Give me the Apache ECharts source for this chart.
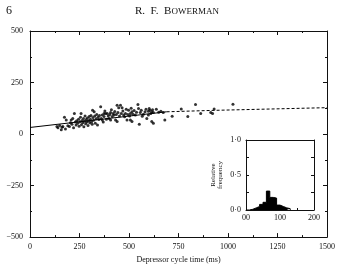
<!DOCTYPE html>
<html>
<head>
<meta charset="utf-8">
<script src="https://cdn.jsdelivr.net/npm/echarts@6/dist/echarts.min.js"></script>
<style>
  html, body { margin: 0; padding: 0; background: #fff; }
  #chart { width: 338px; height: 269px; }
</style>
</head>
<body>
<div id="chart"></div>
<script>
// scatter: depressor cycle time (ms) vs value
const cyclePoints = [
  [136, 37], [141, 30], [150, 42], [158, 21], [162, 33], [166, 37], [174, 81], [179, 25],
  [183, 68], [191, 40], [199, 37], [204, 55], [208, 68], [212, 48], [216, 76], [220, 30],
  [224, 100], [229, 58], [233, 44], [236, 65], [241, 53], [245, 72], [248, 38], [252, 60],
  [255, 82], [258, 100], [260, 45], [263, 66], [266, 55], [270, 75], [272, 35], [275, 62],
  [278, 88], [281, 50], [284, 70], [287, 58], [290, 78], [293, 42], [296, 64], [299, 85],
  [302, 55], [305, 72], [308, 90], [311, 60], [314, 48], [316, 116], [318, 80], [321, 67],
  [324, 108], [327, 88], [330, 52], [334, 74], [337, 95], [341, 44], [344, 82], [348, 70],
  [351, 90], [357, 132], [360, 76], [365, 92], [365, 68], [370, 58], [374, 85], [374, 100],
  [378, 112], [382, 100], [386, 72], [390, 100], [395, 88], [399, 76], [403, 95], [407, 105],
  [407, 68], [411, 118], [415, 85], [420, 100], [424, 92], [428, 110], [432, 68], [436, 95],
  [440, 140], [440, 61], [444, 104], [448, 128], [452, 88], [457, 140], [461, 100], [465, 128],
  [469, 112], [473, 92], [478, 84], [482, 100], [486, 120], [490, 68], [494, 95], [498, 116],
  [503, 88], [507, 100], [507, 68], [511, 125], [515, 108], [515, 61], [520, 96], [526, 114],
  [532, 92], [538, 106], [545, 143], [548, 124], [552, 48], [557, 105], [562, 116], [567, 86],
  [573, 96], [581, 108], [586, 120], [590, 76], [598, 111], [598, 92], [602, 124], [606, 116],
  [610, 100], [615, 108], [615, 61], [619, 118], [623, 105], [623, 53], [638, 120], [650, 106],
  [661, 111], [673, 105], [681, 68], [718, 86], [764, 121], [797, 85], [836, 143], [862, 100],
  [913, 104], [922, 100], [930, 121], [1025, 145]
];
// fitted line, solid part and dashed extrapolation
const fitSolid = [[0, 32], [690, 108]];
const fitDashed = [[690, 108], [930, 115], [1500, 128]];

// inset histogram: bin start (ms) and relative frequency
const binStarts = [0, 10, 20, 30, 40, 50, 60, 70, 80, 90, 100, 110, 120, 130];
const binFreq = [0, 0.01, 0.03, 0.05, 0.08, 0.11, 0.27, 0.18, 0.17, 0.07, 0.05, 0.03, 0.02, 0];

const mainTicks = [-500, -250, 0, 250, 500];
const insetYLabels = { 0: '0·0', 0.5: '0·5', 1: '1·0' };
const insetXLabels = { 0: '00', 100: '100', 200: '200' };

const serif = 'Liberation Serif';
const ink = '#111';

const chart = echarts.init(document.getElementById('chart'));

const lineAxis = { onZero: false, lineStyle: { color: ink, width: 1 } };
const labelStyle = { fontFamily: serif, fontSize: 8, color: ink };
const tick = len => ({ inside: true, length: len, lineStyle: { color: ink } });
const minor = len => ({ show: true, splitNumber: 2, length: len, lineStyle: { color: ink } });

const option = {
  animation: false,
  title: [
    { text: '6', left: 1, top: 0, textStyle: { fontFamily: serif, fontSize: 12, fontWeight: 'normal', color: ink } },
    {
      text: '{a|R.  F.  B}{b|OWERMAN}', left: 130, top: 1,
      textStyle: {
        rich: {
          a: { fontFamily: serif, fontSize: 11, fontWeight: 'normal', color: ink },
          b: { fontFamily: serif, fontSize: 9, fontWeight: 'normal', color: ink }
        }
      }
    }
  ],
  grid: [
    { left: 30, top: 31, right: 6, bottom: 29 },
    { left: 246, top: 140, width: 68, height: 70 }
  ],
  xAxis: [
    {
      type: 'value', gridIndex: 0, min: 0, max: 1500, interval: 250,
      name: 'Depressor cycle time (ms)', nameLocation: 'middle', nameGap: 18,
      nameTextStyle: { fontFamily: serif, fontSize: 8, color: ink },
      axisLine: lineAxis, splitLine: { show: false },
      axisTick: tick(4), minorTick: minor(2),
      axisLabel: Object.assign({ margin: 6, formatter: v => String(v) }, labelStyle)
    },
    {
      type: 'value', gridIndex: 0, position: 'top', min: 0, max: 1500, interval: 250,
      axisLine: lineAxis, splitLine: { show: false }, axisLabel: { show: false },
      axisTick: tick(4), minorTick: minor(2)
    },
    {
      type: 'value', gridIndex: 1, min: 0, max: 200, interval: 100,
      axisLine: lineAxis, splitLine: { show: false },
      axisTick: tick(3), minorTick: minor(2),
      axisLabel: Object.assign({ margin: 4, formatter: v => insetXLabels[v] || '' }, labelStyle)
    },
    {
      type: 'value', gridIndex: 1, position: 'top', min: 0, max: 200, interval: 100,
      axisLine: lineAxis, splitLine: { show: false }, axisLabel: { show: false }, axisTick: { show: false }
    }
  ],
  yAxis: [
    {
      type: 'value', gridIndex: 0, min: mainTicks[0], max: mainTicks[mainTicks.length - 1], interval: 250,
      axisLine: lineAxis, splitLine: { show: false },
      axisTick: tick(4), minorTick: minor(2),
      axisLabel: Object.assign({ margin: 7, formatter: v => String(v).replace('-', '\u2212') }, labelStyle)
    },
    {
      type: 'value', gridIndex: 0, position: 'right', min: -500, max: 500, interval: 250,
      axisLine: lineAxis, splitLine: { show: false }, axisLabel: { show: false },
      axisTick: tick(4), minorTick: minor(2)
    },
    {
      type: 'value', gridIndex: 1, min: 0, max: 1, interval: 0.5,
      name: 'Relative\nfrequency', nameLocation: 'middle', nameRotate: 90, nameGap: 22,
      nameTextStyle: { fontFamily: serif, fontSize: 7, color: ink, lineHeight: 7 },
      axisLine: lineAxis, splitLine: { show: false },
      axisTick: tick(3), minorTick: minor(3),
      axisLabel: Object.assign({ margin: 5, formatter: v => insetYLabels[v] || '' }, labelStyle)
    },
    {
      type: 'value', gridIndex: 1, position: 'right', min: 0, max: 1, interval: 0.5,
      axisLine: lineAxis, splitLine: { show: false }, axisLabel: { show: false },
      axisTick: tick(3), minorTick: minor(3)
    }
  ],
  series: [
    {
      type: 'scatter', xAxisIndex: 0, yAxisIndex: 0, data: cyclePoints,
      symbol: 'circle', symbolSize: 3, itemStyle: { color: '#000' }
    },
    {
      type: 'line', xAxisIndex: 0, yAxisIndex: 0, data: fitSolid, showSymbol: false,
      lineStyle: { color: '#000', width: 1 }
    },
    {
      type: 'line', xAxisIndex: 0, yAxisIndex: 0, data: fitDashed, showSymbol: false,
      lineStyle: { color: '#000', width: 1, type: [3, 2] }
    },
    {
      type: 'line', xAxisIndex: 2, yAxisIndex: 2, step: 'end', showSymbol: false,
      data: binStarts.map((b, i) => [b, binFreq[i]]),
      lineStyle: { color: '#000', width: 1 }, areaStyle: { color: '#000', opacity: 1 }
    }
  ]
};

chart.setOption(option);
</script>
</body>
</html>
